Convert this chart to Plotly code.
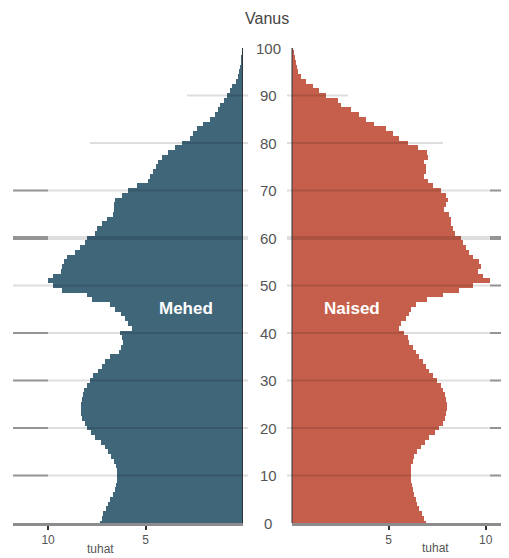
import plotly.graph_objects as go

ages = list(range(0, 101))

men = [7.33, 7.25, 7.16, 7.05, 6.92, 6.80, 6.68, 6.58, 6.50, 6.46,
       6.44, 6.46, 6.54, 6.62, 6.76, 6.92, 7.08, 7.30, 7.58, 7.80,
       7.98, 8.12, 8.26, 8.30, 8.32, 8.32, 8.28, 8.22, 8.14, 8.02,
       7.86, 7.70, 7.45, 7.25, 7.08, 6.80, 6.35, 6.25, 6.14, 6.20,
       6.30, 5.70, 5.88, 6.05, 6.25, 6.55, 6.80, 7.76, 8.00, 9.30,
       9.73, 9.98, 9.73, 9.32, 9.28, 9.20, 9.04, 8.62, 8.36, 8.10,
       7.98, 7.60, 7.50, 7.25, 7.00, 6.65, 6.62, 6.60, 6.56, 6.22,
       5.88, 5.45, 4.86, 4.77, 4.60, 4.45, 4.34, 4.17, 3.83, 3.49,
       3.14, 2.72, 2.55, 2.37, 2.05, 1.69, 1.44, 1.30, 1.18, 1.00,
       0.84, 0.65, 0.55, 0.38, 0.28, 0.19, 0.14, 0.10, 0.07, 0.05,
       0.03]

women = [6.92, 6.80, 6.68, 6.56, 6.45, 6.36, 6.30, 6.22, 6.16, 6.13,
         6.13, 6.13, 6.15, 6.22, 6.30, 6.45, 6.65, 6.85, 7.08, 7.35,
         7.59, 7.78, 7.88, 7.94, 7.97, 7.97, 7.95, 7.90, 7.80, 7.68,
         7.48, 7.25, 7.08, 6.90, 6.72, 6.56, 6.40, 6.22, 6.05, 5.96,
         5.79, 5.53, 5.62, 5.88, 6.00, 6.13, 6.40, 6.95, 7.76, 8.62,
         9.31, 10.17, 9.82, 9.57, 9.74, 9.65, 9.31, 9.10, 8.97, 8.80,
         8.71, 8.37, 8.30, 8.20, 8.20, 8.10, 7.85, 7.95, 8.02, 7.94,
         7.68, 7.25, 6.99, 6.82, 6.90, 6.90, 6.82, 6.99, 6.95, 6.50,
         5.96, 5.53, 5.19, 4.85, 4.24, 3.81, 3.47, 3.04, 2.52, 2.35,
         1.75, 1.41, 1.06, 0.72, 0.46, 0.29, 0.25, 0.20, 0.14, 0.09,
         0.05]

age_ticks = [0, 10, 20, 30, 40, 50, 60, 70, 80, 90, 100]
x_ticks = [5, 10]
x_tick_labels = ["5", "10"]
men_label = "Mehed"
women_label = "Naised"
y_title = "Vanus"
x_title = "tuhat"

# page has an 8px body margin; size the figure to fill the rest of the window
OFF = 8
W, H = 509 - OFF, 558 - OFF
BLUE = "#40667a"
RED = "#c55f4b"
FONT = "Liberation Sans, Arial, sans-serif"
PLOT_H = 523 - 48  # plot-area height in px


def px(x):
    """page x pixel -> paper fraction"""
    return (x - OFF) / W


fig = go.Figure()
fig.add_trace(go.Bar(y=ages, x=men, orientation="h", width=1,
                     marker=dict(color=BLUE, line=dict(width=0)),
                     xaxis="x", yaxis="y", showlegend=False, hoverinfo="x+y"))
fig.add_trace(go.Bar(y=ages, x=women, orientation="h", width=1,
                     marker=dict(color=RED, line=dict(width=0)),
                     xaxis="x2", yaxis="y", showlegend=False, hoverinfo="x+y"))

shapes = []
# horizontal guide lines
for a in age_ticks[1:-1]:
    w = 4 if a == 60 else 2
    left_start = {90: 187, 80: 90}.get(a, 13)
    right_end = {90: 348, 80: 443}.get(a, 509)
    shapes.append(dict(type="line", xref="paper", yref="y", layer="above",
                       x0=px(left_start), x1=px(248), y0=a, y1=a,
                       line=dict(color="rgba(0,0,0,0.13)", width=w)))
    shapes.append(dict(type="line", xref="paper", yref="y", layer="above",
                       x0=px(287), x1=px(right_end), y0=a, y1=a,
                       line=dict(color="rgba(0,0,0,0.13)", width=w)))
    if a <= 70:
        if a != 50:
            shapes.append(dict(type="line", xref="paper", yref="y", layer="above",
                               x0=px(13), x1=px(48), y0=a, y1=a,
                               line=dict(color="rgba(0,0,0,0.33)", width=w)))
        shapes.append(dict(type="line", xref="paper", yref="y", layer="above",
                           x0=px(490), x1=px(509), y0=a, y1=a,
                           line=dict(color="rgba(0,0,0,0.33)", width=w)))
# central vertical axis lines
shapes.append(dict(type="line", xref="x", yref="y", layer="above",
                   x0=0, x1=0, y0=0, y1=100, line=dict(color="#2f3438", width=2)))
shapes.append(dict(type="line", xref="x2", yref="y", layer="above",
                   x0=0, x1=0, y0=0, y1=100, line=dict(color="#2f3438", width=2)))

annotations = []
for a in age_ticks:
    annotations.append(dict(xref="paper", yref="y", x=px(268), y=a, text=str(a),
                            showarrow=False, xanchor="center", yanchor="middle",
                            font=dict(family=FONT, size=15, color="#555")))
annotations.append(dict(xref="paper", yref="paper", x=px(267), y=1 + 30 / PLOT_H,
                        text=y_title, showarrow=False, xanchor="center", yanchor="middle",
                        font=dict(family=FONT, size=16, color="#444")))
annotations.append(dict(xref="x", yref="y", x=2.9, y=45.2, text="<b>%s</b>" % men_label,
                        showarrow=False, xanchor="center", yanchor="middle",
                        font=dict(family=FONT, size=17, color="white")))
annotations.append(dict(xref="x2", yref="y", x=3.1, y=45.2, text="<b>%s</b>" % women_label,
                        showarrow=False, xanchor="center", yanchor="middle",
                        font=dict(family=FONT, size=17, color="white")))
annotations.append(dict(xref="paper", yref="paper", x=px(100), y=-26 / PLOT_H, text=x_title,
                        showarrow=False, xanchor="center", yanchor="middle",
                        font=dict(family=FONT, size=12, color="#555")))
annotations.append(dict(xref="paper", yref="paper", x=px(435), y=-25 / PLOT_H, text=x_title,
                        showarrow=False, xanchor="center", yanchor="middle",
                        font=dict(family=FONT, size=12, color="#555")))

axis_common = dict(showgrid=False, zeroline=False, showline=True, linecolor="#8c8c8c",
                   linewidth=3, ticks="outside", ticklen=4, tickwidth=1.5, tickcolor="#333",
                   tickvals=x_ticks, ticktext=x_tick_labels,
                   tickfont=dict(family=FONT, size=12, color="#555"), fixedrange=True)

fig.update_layout(
    width=W, height=H,
    margin=dict(l=0, r=0, t=48 - OFF, b=558 - 523),
    paper_bgcolor="white", plot_bgcolor="white",
    bargap=0,
    xaxis=dict(domain=[px(13), px(243)], range=[11.8, 0], anchor="y", **axis_common),
    xaxis2=dict(domain=[px(291.5), 1.0], range=[0, 11.2], anchor="y", **axis_common),
    yaxis=dict(range=[0, 100], showgrid=False, zeroline=False, showline=False,
               showticklabels=False, ticks="", fixedrange=True),
    shapes=shapes,
    annotations=annotations,
    showlegend=False,
)

fig.write_html("out.html")
